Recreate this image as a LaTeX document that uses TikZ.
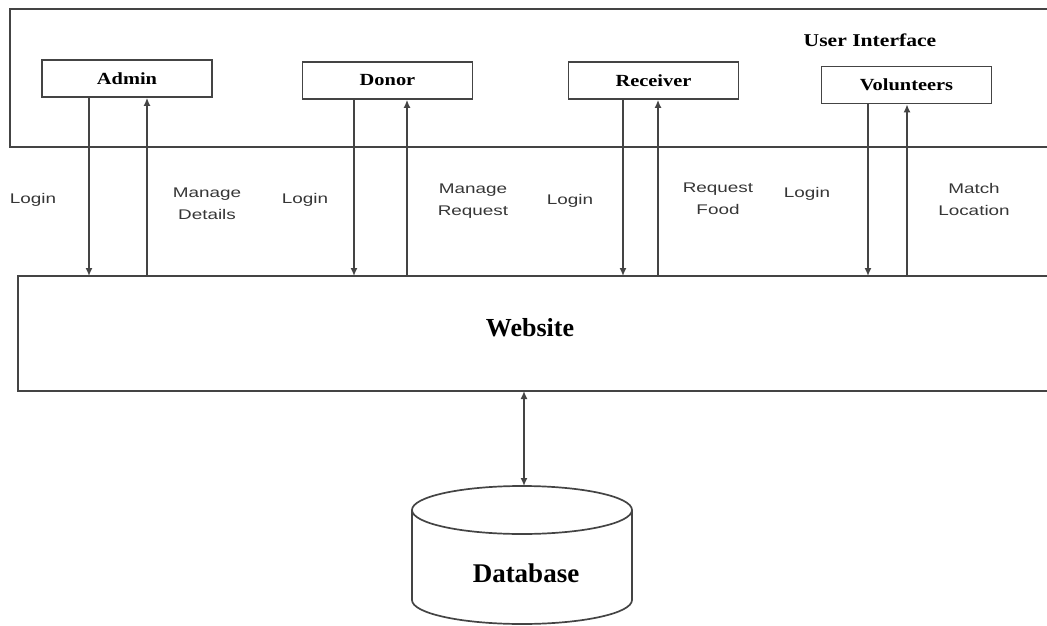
\documentclass[tikz,border=0pt]{standalone}
\usepackage{fontspec}
\setmainfont{Liberation Serif}
\newfontfamily\boxfont[FakeStretch=1.2]{Liberation Serif}
\newfontfamily\lblfont[FakeStretch=1.35]{Liberation Sans}
\usetikzlibrary{arrows.meta}
\definecolor{linegray}{HTML}{444444}
\definecolor{textgray}{HTML}{363636}

\tikzset{
  actor/.style={draw=linegray, line width=1.7pt, minimum width=170pt, minimum height=37pt,
    font=\boxfont\bfseries\fontsize{17}{19}\selectfont},
  frame/.style={draw=linegray, line width=1.7pt},
  flow/.style={draw=linegray, line width=1.5pt, -{Latex[length=8pt,width=7pt]}},
  flowlbl/.style={font=\lblfont\fontsize{14}{22}\selectfont, text=textgray, align=center}
}

\begin{document}
\begin{tikzpicture}[x=1pt,y=-1pt]
\useasboundingbox (0,0) rectangle (1047,626);
\clip (0,0) rectangle (1047,626);

% User interface frame
\draw[frame] (1070,9) -- (10,9) -- (10,147) -- (1070,147);
\node[font=\boxfont\bfseries\fontsize{18}{20}\selectfont] (uitext) at (870,40) {User Interface};

% Actors
\node[actor] (admin) at (127,78.5) {Admin};
\node[actor] (donor) at (387.5,80.5) {Donor};
\node[actor] (receiver) at (653.5,80.5) {Receiver};
\node[actor] (vol) at (906.5,85) {Volunteers};

% Website
\draw[frame] (1070,276) -- (18,276) -- (18,391) -- (1070,391);
\coordinate (web) at (18,276);
\node[font=\bfseries\fontsize{26}{28}\selectfont] (webtext) at (530,328) {Website};

% Arrows between actors and website
\foreach \n/\d/\u in {admin/89/147, donor/354/407, receiver/623/658, vol/868/907} {
  \draw[flow] (\n.south -| \d,0) -- (web -| \d,0);
  \draw[flow] (web -| \u,0) -- (\n.south -| \u,0);
}

% Flow labels
\node[flowlbl] (l1) at (33,200) {Login};
\node[flowlbl] (l2) at (207,204) {Manage\\Details};
\node[flowlbl] (l3) at (305,200) {Login};
\node[flowlbl] (l4) at (473,201) {Manage\\Request};
\node[flowlbl] (l5) at (570,201) {Login};
\node[flowlbl] (l6) at (718,199) {Request\\Food};
\node[flowlbl] (l7) at (807,194) {Login};
\node[flowlbl] (l8) at (974,199) {Match\\Location};

% Database
\coordinate (dbtop) at (524,486);
\draw[frame] (522,510) ellipse [x radius=110, y radius=24];
\draw[frame] (412,510) -- (412,600) arc[start angle=180, end angle=0, x radius=110, y radius=24]
  -- (632,510);
\node[font=\bfseries\fontsize{27}{29}\selectfont] (db) at (526,573) {Database};
\draw[flow, {Latex[length=8pt,width=7pt]}-{Latex[length=8pt,width=7pt]}] (web -| dbtop) ++(0,115) -- (dbtop);

\end{tikzpicture}
\end{document}
